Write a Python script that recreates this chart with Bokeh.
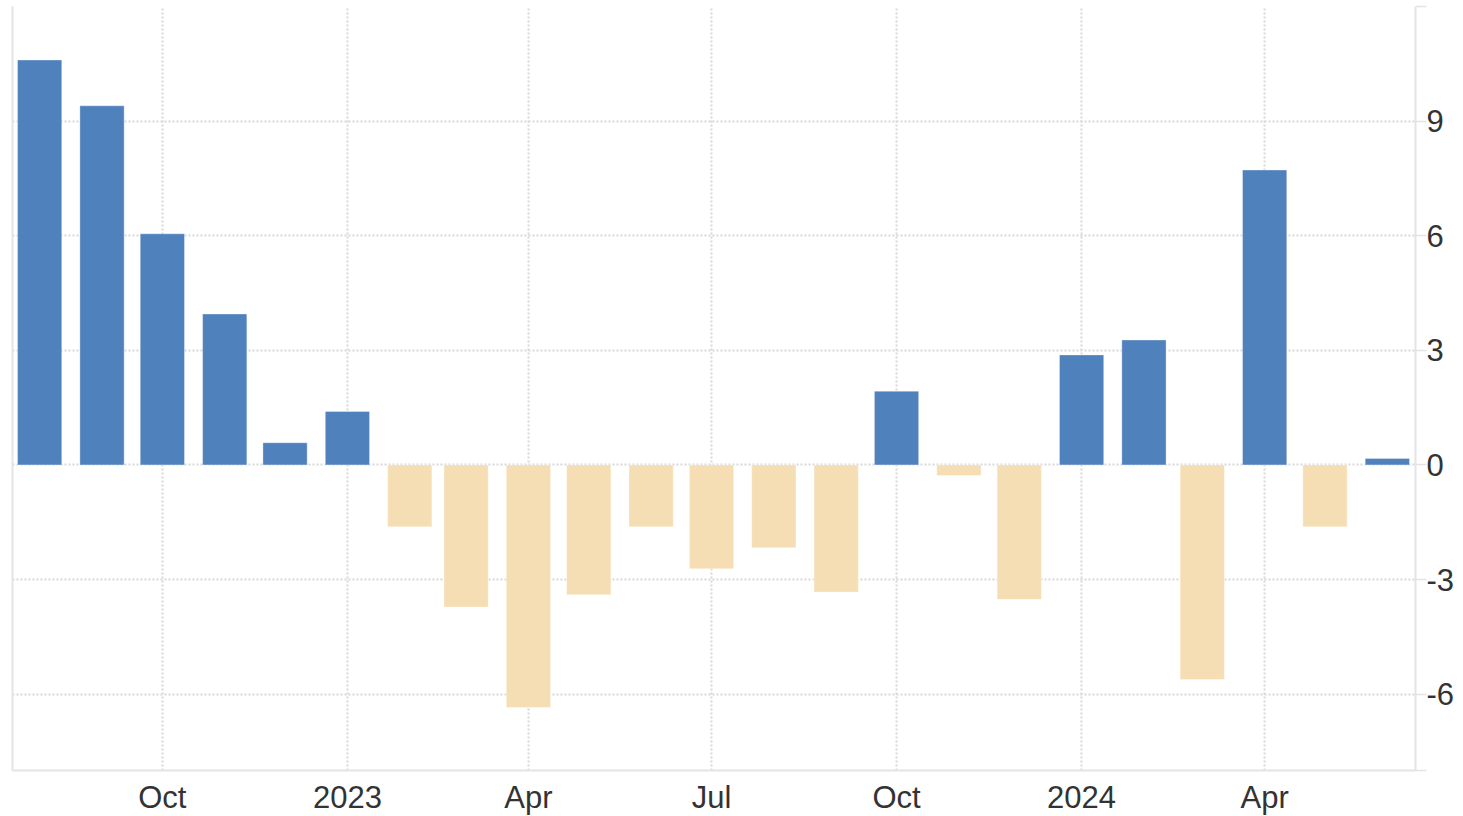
import pandas as pd
from bokeh.plotting import figure
from bokeh.models import ColumnDataSource, FixedTicker, LinearAxis, Range1d
from bokeh.embed import file_html
from bokeh.resources import INLINE

# ---- data ----
months = ["2022-08", "2022-09", "2022-10", "2022-11", "2022-12",
          "2023-01", "2023-02", "2023-03", "2023-04", "2023-05", "2023-06",
          "2023-07", "2023-08", "2023-09", "2023-10", "2023-11", "2023-12",
          "2024-01", "2024-02", "2024-03", "2024-04", "2024-05", "2024-06"]
values = [10.6, 9.4, 6.05, 3.95, 0.58,
          1.4, -1.62, -3.72, -6.35, -3.4, -1.62,
          -2.72, -2.17, -3.33, 1.93, -0.28, -3.52,
          2.88, 3.27, -5.62, 7.72, -1.62, 0.17]
tick_dates = ["2022-10-01", "2023-01-01", "2023-04-01", "2023-07-01",
              "2023-10-01", "2024-01-01", "2024-04-01"]
tick_labels = ["Oct", "2023", "Apr", "Jul", "Oct", "2024", "Apr"]
y_ticks = [-6, -3, 0, 3, 6, 9, 12]
y_labels = ["-6", "-3", "0", "3", "6", "9", ""]

BLUE = "#4f81bd"
BEIGE = "#f5deb3"
GRID = "#d8d8d8"
AXIS = "#e4e4e4"
FONT = "Liberation Sans"
DAY = 86400000


def ms(s):
    return int(pd.Timestamp(s).timestamp() * 1000)


xs = [ms(m + "-01") for m in months]
colors = [BLUE if v >= 0 else BEIGE for v in values]
src = ColumnDataSource(dict(x=xs, top=values, color=colors))

tick_ms = [ms(d) for d in tick_dates]

p = figure(frame_width=1403, frame_height=764,
           x_axis_type="datetime", y_axis_location="right",
           x_range=Range1d(ms("2022-07-18") + DAY // 2, ms("2024-06-15")),
           y_range=Range1d(-8, 12),
           output_backend="svg", toolbar_location=None,
           min_border_left=12, min_border_top=6, min_border_right=0, min_border_bottom=0)
p.outline_line_color = None
p.background_fill_color = "white"
p.border_fill_color = "white"

p.vbar(x="x", top="top", bottom=0, width=22 * DAY, fill_color="color",
       line_color="white", line_alpha=0.35, line_width=1, source=src)

# x axis
xa = p.xaxis[0]
xa.ticker = FixedTicker(ticks=tick_ms)
xa.major_label_overrides = {t: l for t, l in zip(tick_ms, tick_labels)}
xa.axis_line_color = AXIS
xa.axis_line_width = 2
xa.major_tick_line_color = None
xa.minor_tick_line_color = None
xa.major_label_text_font = FONT
xa.major_label_text_font_size = "31px"
xa.major_label_text_color = "#333333"
xa.major_label_standoff = 3

# y axis (right)
ya = p.yaxis[0]
ya.ticker = FixedTicker(ticks=y_ticks + [-8])
ov = {t: l for t, l in zip(y_ticks, y_labels)}
ov[-8] = ""
ya.major_label_overrides = ov
ya.axis_line_color = AXIS
ya.axis_line_width = 2
ya.major_tick_in = 0
ya.major_tick_out = 11
ya.major_tick_line_color = AXIS
ya.major_tick_line_width = 1.5
ya.minor_tick_line_color = None
ya.major_label_text_font = FONT
ya.major_label_text_font_size = "31px"
ya.major_label_text_color = "#333333"
ya.major_label_standoff = 0

# left border line
la = LinearAxis(ticker=FixedTicker(ticks=[]), major_label_text_font_size="0px",
                major_tick_line_color=None, minor_tick_line_color=None,
                axis_line_color=AXIS, axis_line_width=2)
p.add_layout(la, "left")

# grids
for g in (p.xgrid[0], p.ygrid[0]):
    g.grid_line_color = GRID
    g.grid_line_dash = "2 2"
    g.grid_line_width = 2
p.ygrid[0].ticker = FixedTicker(ticks=y_ticks)

open("out.html", "w").write(file_html(p, INLINE))
